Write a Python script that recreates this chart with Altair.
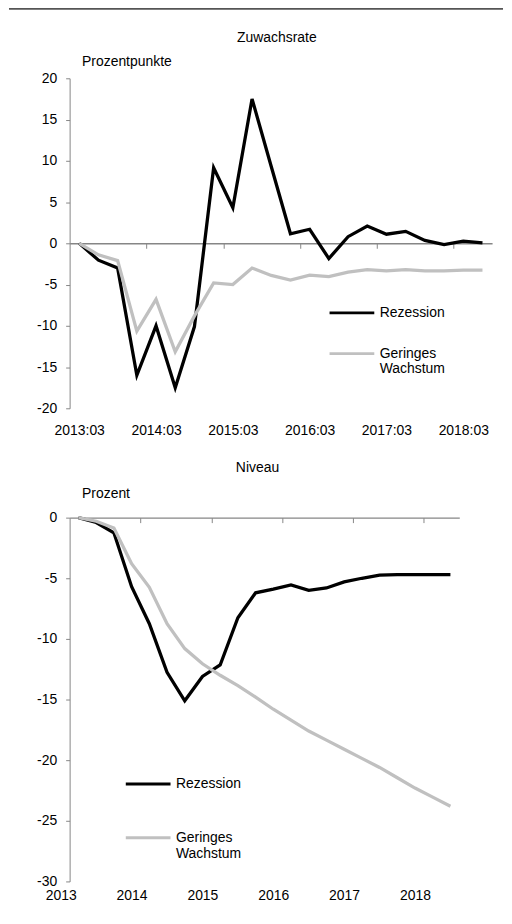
import altair as alt
import pandas as pd

# ---------------- data ----------------
quarters = ["2013:03", "2013:06", "2013:09", "2013:12",
            "2014:03", "2014:06", "2014:09", "2014:12",
            "2015:03", "2015:06", "2015:09", "2015:12",
            "2016:03", "2016:06", "2016:09", "2016:12",
            "2017:03", "2017:06", "2017:09", "2017:12",
            "2018:03", "2018:06"]

top_rezession = [0, -2.05, -3.0, -16.0, -10.0, -17.5, -10.1, 9.15, 4.3, 17.5, 9.3,
                 1.15, 1.7, -1.85, 0.8, 2.1, 1.1, 1.45, 0.35, -0.15, 0.25, 0.05]
top_gering = [0, -1.4, -2.1, -10.65, -6.8, -13.15, -8.8, -4.8, -5.0, -3.0, -3.9,
              -4.45, -3.85, -4.05, -3.5, -3.2, -3.35, -3.2, -3.35, -3.35, -3.25, -3.25]

bottom_rezession = [0, -0.4, -1.25, -5.7, -8.75, -12.75, -15.1, -13.1, -12.15, -8.25, -6.2,
                    -5.9, -5.55, -6.0, -5.8, -5.3, -5.0, -4.75, -4.7, -4.7, -4.7, -4.7]
bottom_gering = [0, -0.3, -0.85, -3.8, -5.75, -8.75, -10.8, -12.05, -13.0, -13.85, -14.8,
                 -15.8, -16.7, -17.6, -18.35, -19.1, -19.85, -20.6, -21.45, -22.3, -23.05, -23.8]

series_names = ["Rezession", "Geringes Wachstum"]
series_colors = ["#000000", "#c0c0c0"]
year_labels = ["2013", "2014", "2015", "2016", "2017", "2018"]

top_title = "Zuwachsrate"
top_unit = "Prozentpunkte"
bottom_title = "Niveau"
bottom_unit = "Prozent"

# ---------------- helpers ----------------
FONT = "Liberation Sans"
AXC = "#868686"
FS = 14
n = len(quarters)
xdom = [-0.5, n - 0.5]


def long_df(a, b):
    rows = []
    for i, q in enumerate(quarters):
        rows.append({"i": i, "q": q, "series": series_names[0], "v": a[i]})
        rows.append({"i": i, "q": q, "series": series_names[1], "v": b[i]})
    return pd.DataFrame(rows)


def js_list(lst):
    return "[" + ",".join("'" + s + "'" for s in lst) + "]"


boundary_vals = [k - 0.5 for k in range(4, n, 4)]


def panel(df, W, H, ydom, ystep, title, title_dx, title_off, unit, unit_y, label_axis,
          legend_x, legend_y, row_pad, top_rule=False):
    xs = alt.Scale(domain=xdom, nice=False, zero=False)
    ys = alt.Scale(domain=ydom, nice=False, zero=False)
    yaxis = alt.Axis(values=list(range(ydom[0], ydom[1] + 1, ystep)), grid=False,
                     domainColor=AXC, tickColor=AXC, tickSize=4, labelPadding=9,
                     labelFontSize=FS, labelColor="black", labelFont=FONT,
                     labelExpr="toString(datum.value)",
                     title=unit, titleAngle=0, titleAlign="left", titleBaseline="middle",
                     titleX=12, titleY=unit_y,
                     titleFontWeight="normal", titleFontSize=FS, titleFont=FONT,
                     titleColor="black")
    zero_off = -H * (0 - ydom[0]) / (ydom[1] - ydom[0])
    tick_axis = alt.Axis(orient="bottom", values=boundary_vals, labels=False, grid=False,
                         domain=True, domainColor=AXC, domainWidth=1.5, tickColor=AXC,
                         tickSize=5, offset=zero_off, title=None)
    lines = alt.Chart(df).mark_line(strokeWidth=3.3).encode(
        x=alt.X("i:Q", scale=xs, axis=label_axis),
        y=alt.Y("v:Q", scale=ys, axis=yaxis),
        color=alt.Color("series:N",
                        scale=alt.Scale(domain=series_names, range=series_colors),
                        legend=alt.Legend(title=None, orient="none", legendX=legend_x,
                                          legendY=legend_y, symbolType="stroke",
                                          symbolSize=2025, symbolStrokeWidth=3,
                                          labelFontSize=FS, labelFont=FONT,
                                          labelColor="black", labelOffset=4,
                                          rowPadding=row_pad, padding=0,
                                          labelExpr="split(datum.label, ' ')")),
        order="i:Q",
    )
    ticks = alt.Chart(df).mark_point(opacity=0).encode(
        x=alt.X("i:Q", scale=xs, axis=tick_axis),
        y=alt.Y("v:Q", scale=ys, axis=yaxis),
    )
    layers = [ticks, lines]
    if top_rule:
        rule = alt.Chart(pd.DataFrame({"a": [0]})).mark_rule(
            color="#555555", strokeWidth=2).encode(
            x=alt.value(-61), x2=alt.value(436), y=alt.value(-70))
        layers.append(rule)
    return alt.layer(*layers).resolve_axis(x="independent").properties(
        width=W, height=H,
        title=alt.TitleParams(title, anchor="middle", fontSize=FS, font=FONT,
                              fontWeight="normal", color="black", dx=title_dx,
                              offset=title_off))


top_label_axis = alt.Axis(orient="bottom", values=list(range(0, n, 4)), domain=False,
                          ticks=False, grid=False, labelFontSize=FS, labelFont=FONT,
                          labelColor="black", labelPadding=15, labelOverlap=False,
                          labelFlush=False, title=None,
                          labelExpr=js_list(quarters) + "[round(datum.value)]")
bottom_label_axis = alt.Axis(orient="bottom", values=[k - 0.5 for k in range(0, n, 4)],
                             domain=False, ticks=False, grid=False, labelFontSize=FS,
                             labelFont=FONT, labelColor="black", labelPadding=7,
                             labelOverlap=False, labelFlush=False, labelOffset=-9,
                             title=None,
                             labelExpr=js_list(year_labels) + "[round((datum.value + 0.5) / 4)]")

top = panel(long_df(top_rezession, top_gering), 425, 332, [-20, 20], 5,
            top_title, -4, -37, top_unit, -17, top_label_axis, 260, 212, 10, top_rule=True)
bottom = panel(long_df(bottom_rezession, bottom_gering), 392, 366, [-30, 0], 5,
               bottom_title, -7, 12, bottom_unit, -24, bottom_label_axis, 55, 244, 23)

chart = alt.vconcat(top, bottom, spacing=110, bounds="flush").resolve_scale(
    color="independent").resolve_legend(color="independent").properties(
    padding={"left": 0, "top": -3, "right": 0, "bottom": 0}
).configure(font=FONT, background="white").configure_view(stroke=None)

chart.save("out.html", embed_options={"renderer": "svg", "actions": False})
